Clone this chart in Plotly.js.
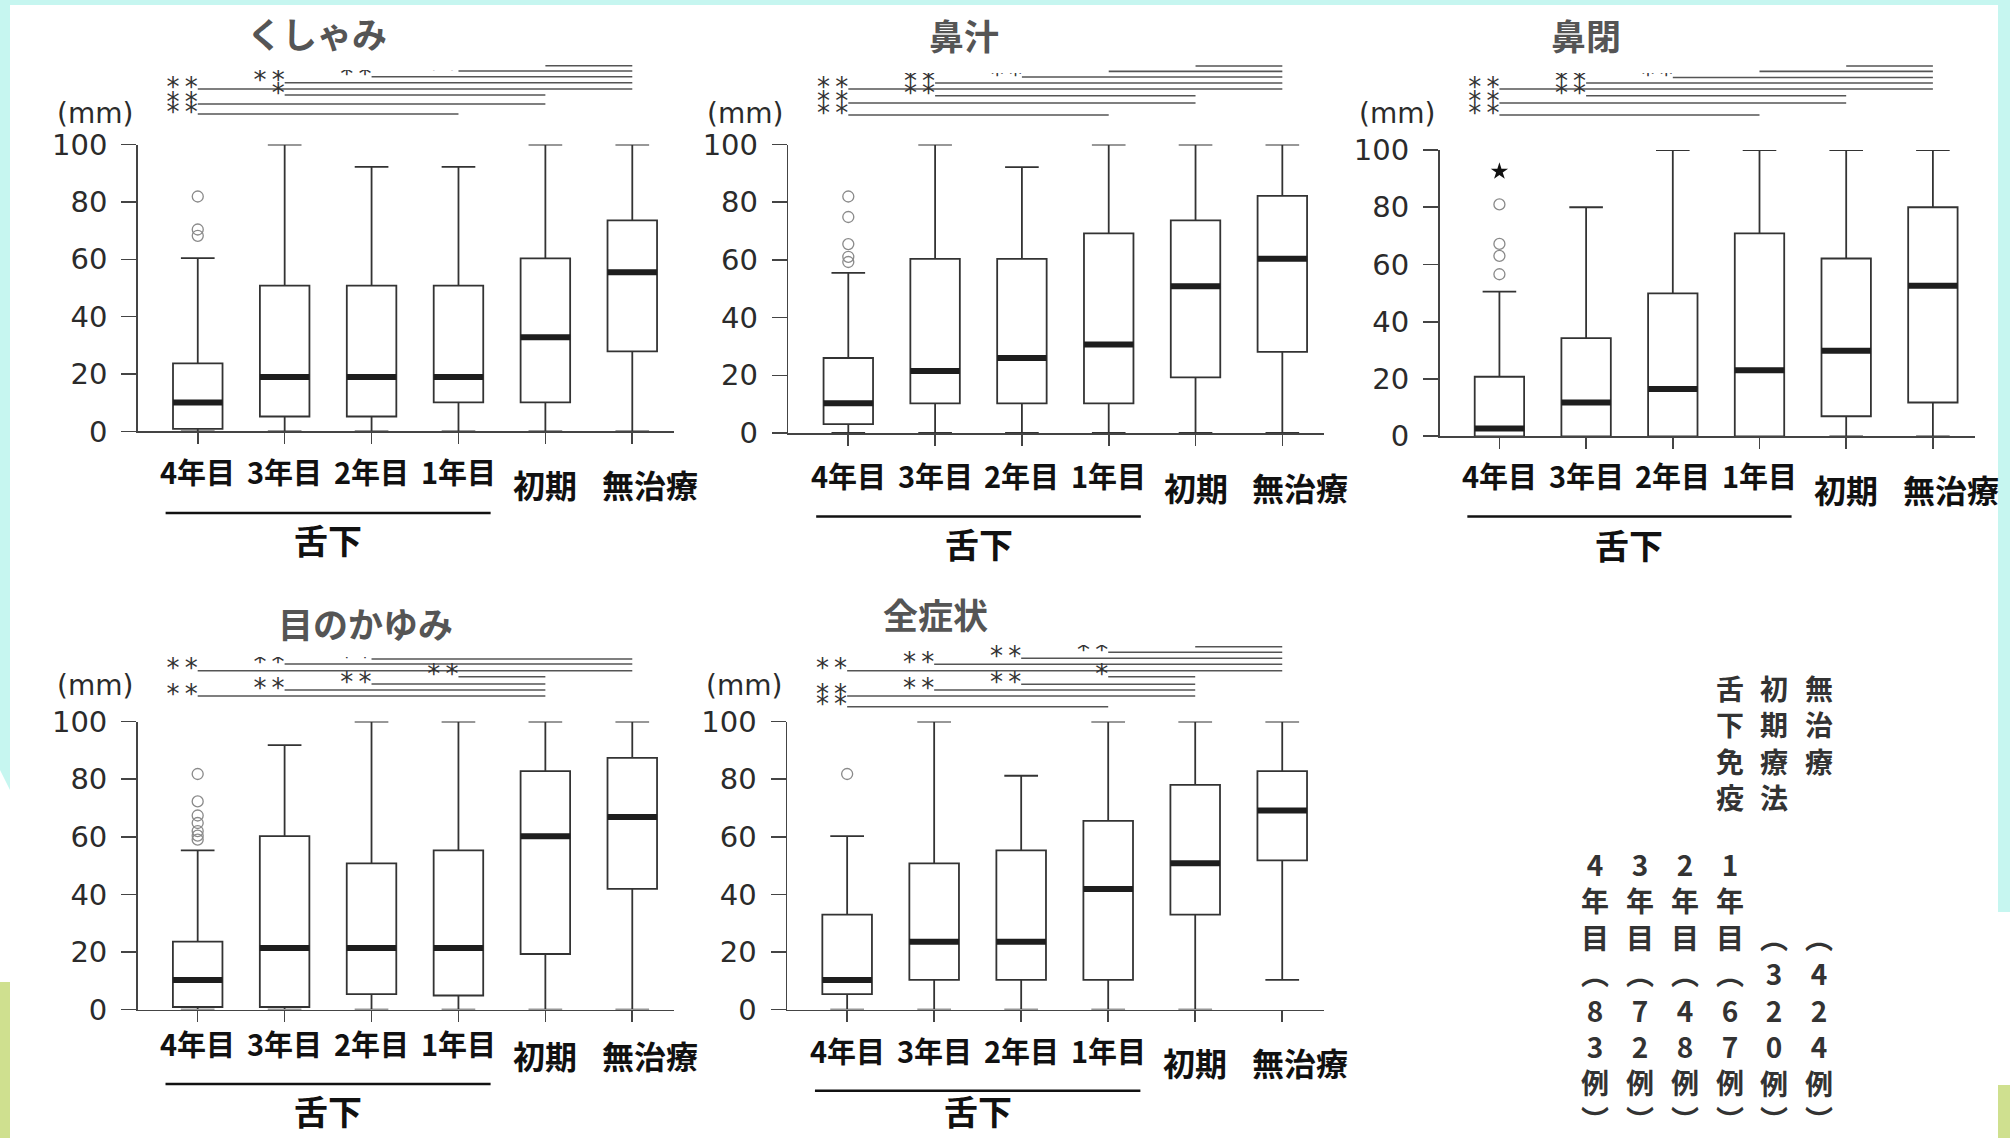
<!DOCTYPE html>
<html><head><meta charset="utf-8">
<script src="https://cdn.plot.ly/plotly-3.0.1.min.js"></script>
<style>html,body{margin:0;padding:0;background:#fff;}#chart{width:2010px;height:1138px;}</style>
</head><body><div id="chart"></div>
<script>
// ---------- data ----------
const groups = ['4年目','3年目','2年目','1年目','初期','無治療'];

// くしゃみ
const sneezeLowerFence = [0,0,0,0,0,0];
const sneezeQ1         = [0.9,5.2,5.2,10.1,10.1,27.9];
const sneezeMedian     = [10.1,19,19,19,32.8,55.5];
const sneezeQ3         = [23.7,50.8,50.8,50.8,60.3,73.6];
const sneezeUpperFence = [60.4,100,92.2,92.2,100,100];
const sneezeOutlierGroup = ['4年目','4年目','4年目'];
const sneezeOutlierValue = [81.9,70.4,68.2];
const sneezeSigFrom  = ['初期','1年目','2年目','3年目','4年目','3年目','4年目','4年目'];
const sneezeSigTo    = ['無治療','無治療','無治療','無治療','無治療','初期','初期','1年目'];
const sneezeSigLabel = ['','**','**','**','**','*','**','**'];

// 鼻汁
const runnyLowerFence = [0,0,0,0,0,0];
const runnyQ1         = [3.1,10.3,10.3,10.3,19.3,28.1];
const runnyMedian     = [10.3,21.5,26,30.7,50.9,60.4];
const runnyQ3         = [26,60.4,60.4,69.2,73.7,82.2];
const runnyUpperFence = [55.5,100,92.2,100,100,100];
const runnyOutlierGroup = ['4年目','4年目','4年目','4年目','4年目'];
const runnyOutlierValue = [82,74.9,65.5,61.1,59.3];
const runnySigFrom  = ['初期','1年目','2年目','3年目','4年目','3年目','4年目','4年目'];
const runnySigTo    = ['無治療','無治療','無治療','無治療','無治療','初期','初期','1年目'];
const runnySigLabel = ['','**','**','**','**','**','**','**'];

// 鼻閉
const blockedLowerFence = [0,0,0,0,0,0];
const blockedQ1         = [0,0,0,0,7,11.8];
const blockedMedian     = [2.7,11.8,16.5,23.1,29.9,52.6];
const blockedQ3         = [20.8,34.3,49.9,70.9,62.1,80];
const blockedUpperFence = [50.5,80,100,100,100,100];
const blockedOutlierGroup = ['4年目','4年目','4年目','4年目','3年目'];
const blockedOutlierValue = [81,67.2,63,56.6,101.9];
const blockedStarGroup = ['4年目'];
const blockedStarValue = [92.5];
const blockedSigFrom  = ['初期','1年目','2年目','3年目','4年目','3年目','4年目','4年目'];
const blockedSigTo    = ['無治療','無治療','無治療','無治療','無治療','初期','初期','1年目'];
const blockedSigLabel = ['','**','**','**','**','**','**','**'];

// 目のかゆみ
const itchyLowerFence = [0,0,0,0,0,0];
const itchyQ1         = [0.9,0.9,5.4,4.9,19.3,41.9];
const itchyMedian     = [10.3,21.4,21.4,21.4,60.2,66.9];
const itchyQ3         = [23.6,60.2,50.8,55.3,82.8,87.4];
const itchyUpperFence = [55.3,91.8,100,100,100,100];
const itchyOutlierGroup = ['4年目','4年目','4年目','4年目','4年目','4年目','4年目'];
const itchyOutlierValue = [81.8,72.3,67.4,64.8,62,60.4,59];
const itchySigFrom  = ['初期','1年目','2年目','3年目','4年目','1年目','2年目','3年目','4年目'];
const itchySigTo    = ['無治療','無治療','無治療','無治療','無治療','初期','初期','初期','初期'];
const itchySigLabel = ['','**','**','**','**','**','**','**','**'];

// 全症状
const allLowerFence = [0,0,0,0,0,10.3];
const allQ1         = [5.4,10.3,10.3,10.3,33,51.8];
const allMedian     = [10.3,23.6,23.6,41.9,50.8,69.1];
const allQ3         = [33,50.8,55.3,65.5,78,82.8];
const allUpperFence = [60.2,100,81.2,100,100,100];
const allOutlierGroup = ['4年目'];
const allOutlierValue = [81.8];
const allSigFrom  = ['初期','1年目','2年目','3年目','4年目','1年目','2年目','3年目','4年目','4年目'];
const allSigTo    = ['無治療','無治療','無治療','無治療','無治療','初期','初期','初期','初期','1年目'];
const allSigLabel = ['','**','**','**','**','*','**','**','**','**'];

// legend
const legendTreatments = ['舌下免疫','初期療法','無治療'];
const legendGroups = ['4年目','3年目','2年目','1年目','',''];
const legendCounts = [83,72,48,67,320,424];
const underGroupLabel = '舌下';
const unitLabel = '(mm)';
const yTicks = [0,20,40,60,80,100];

// ---------- layout config ----------
const W = 2010, H = 1138;
const fx = p => p / W;
const fy = p => 1 - p / H;
const CJK = '"Noto Sans CJK JP", "Noto Sans", sans-serif';

const SERIES = [
  {title:'くしゃみ', lo:sneezeLowerFence, q1:sneezeQ1, med:sneezeMedian, q3:sneezeQ3, hi:sneezeUpperFence, og:sneezeOutlierGroup, ov:sneezeOutlierValue, sg:[], sv:[], from:sneezeSigFrom, to:sneezeSigTo, lab:sneezeSigLabel},
  {title:'鼻汁', lo:runnyLowerFence, q1:runnyQ1, med:runnyMedian, q3:runnyQ3, hi:runnyUpperFence, og:runnyOutlierGroup, ov:runnyOutlierValue, sg:[], sv:[], from:runnySigFrom, to:runnySigTo, lab:runnySigLabel},
  {title:'鼻閉', lo:blockedLowerFence, q1:blockedQ1, med:blockedMedian, q3:blockedQ3, hi:blockedUpperFence, og:blockedOutlierGroup, ov:blockedOutlierValue, sg:blockedStarGroup, sv:blockedStarValue, from:blockedSigFrom, to:blockedSigTo, lab:blockedSigLabel},
  {title:'目のかゆみ', lo:itchyLowerFence, q1:itchyQ1, med:itchyMedian, q3:itchyQ3, hi:itchyUpperFence, og:itchyOutlierGroup, ov:itchyOutlierValue, sg:[], sv:[], from:itchySigFrom, to:itchySigTo, lab:itchySigLabel},
  {title:'全症状', lo:allLowerFence, q1:allQ1, med:allMedian, q3:allQ3, hi:allUpperFence, og:allOutlierGroup, ov:allOutlierValue, sg:[], sv:[], from:allSigFrom, to:allSigTo, lab:allSigLabel}
];

const PANELS = [
  {titleXY:[317,33], x0:137.8, x1:674, y0:144.6, y1:431.4, mmY:113.5, yearY:471, bigY:484, lineY:513, textY:539, lineTop:62, textTop:70, sigBottom:130, rows:[65.7,71,76.7,82.7,89,95,104,114]},
  {titleXY:[964,34], x0:788.4, x1:1324, y0:144.6, y1:433, mmY:113.5, yearY:475, bigY:487, lineY:516.6, textY:543, lineTop:62, textTop:73, sigBottom:130, rows:[66,71.4,77,83,89,95.7,103,115]},
  {titleXY:[1586,34], x0:1439.6, x1:1974.5, y0:150, y1:436.3, mmY:113.5, yearY:475, bigY:489, lineY:516.6, textY:544, lineTop:62, textTop:73, sigBottom:130, rows:[66,71.4,77.5,83,89,95.7,103,115]},
  {titleXY:[365,622], x0:137.7, x1:674, y0:721.6, y1:1009.6, mmY:685, yearY:1042.7, bigY:1055, lineY:1084, textY:1110, lineTop:656, textTop:657, sigBottom:705, rows:[649,653,659,664,670.7,676.7,684,690,696]},
  {titleXY:[935,613], x0:787.1, x1:1324, y0:721.6, y1:1009.6, mmY:685, yearY:1050, bigY:1062, lineY:1090.7, textY:1110, lineTop:644, textTop:645, sigBottom:718, rows:[646.7,652.3,658.3,664.3,670.7,676.7,684.3,690,696,706.7]}
];

const gi = g => groups.indexOf(g);
const xIdx = groups.map((g, j) => j);

const layout = {
  width: W, height: H,
  margin: {l:0, r:0, t:0, b:0},
  paper_bgcolor: '#ffffff',
  plot_bgcolor: 'rgba(0,0,0,0)',
  showlegend: false,
  boxmode: 'overlay',
  annotations: [],
  shapes: []
};
const traces = [];

// background strips
const CYAN = '#c6f6f0', LIME = '#cfe08f';
layout.shapes.push(
  {type:'rect', xref:'paper', yref:'paper', x0:0, x1:1, y0:fy(5), y1:1, fillcolor:CYAN, line:{width:0}, layer:'below'},
  {type:'path', xref:'paper', yref:'paper', path:`M0,1 L${fx(10)},1 L${fx(10)},${fy(790)} L0,${fy(770)} Z`, fillcolor:CYAN, line:{width:0}, layer:'below'},
  {type:'rect', xref:'paper', yref:'paper', x0:fx(1998), x1:1, y0:fy(912), y1:1, fillcolor:CYAN, line:{width:0}, layer:'below'},
  {type:'rect', xref:'paper', yref:'paper', x0:0, x1:fx(10), y0:0, y1:fy(982), fillcolor:LIME, line:{width:0}, layer:'below'},
  {type:'rect', xref:'paper', yref:'paper', x0:fx(1998), x1:1, y0:0, y1:fy(1085), fillcolor:LIME, line:{width:0}, layer:'below'}
);

PANELS.forEach((p, i) => {
  const d = SERIES[i];
  const k = i + 1;
  const s = k === 1 ? '' : String(k);
  const xa = 'x' + s, ya = 'y' + s, yl = 'y' + (k + 5), yt = 'y' + (k + 10);

  layout['xaxis' + s] = {
    domain:[fx(p.x0), fx(p.x1)], range:[-0.69, 5.48], anchor:ya,
    tickmode:'array', tickvals:xIdx, showticklabels:false,
    ticks:'outside', ticklen:11, tickwidth:1.6, tickcolor:'#444',
    showline:true, linecolor:'#444', linewidth:1.6,
    showgrid:false, zeroline:false, fixedrange:true
  };
  layout['yaxis' + s] = {
    domain:[fy(p.y1), fy(p.y0)], range:[0, 100], anchor:xa,
    tickmode:'array', tickvals:yTicks,
    ticks:'outside', ticklen:15, tickwidth:1.6, tickcolor:'#444',
    ticklabelstandoff:8,
    tickfont:{family:'"DejaVu Sans", sans-serif', size:29, color:'#2b2b2b'},
    showline:true, linecolor:'#444', linewidth:1.6,
    showgrid:false, zeroline:false, fixedrange:true
  };
  layout['yaxis' + (k + 5)] = {domain:[fy(p.sigBottom), fy(p.lineTop)], range:[p.sigBottom, p.lineTop], anchor:xa, visible:false, fixedrange:true};
  layout['yaxis' + (k + 10)] = {domain:[fy(p.sigBottom), fy(p.textTop)], range:[p.sigBottom, p.textTop], anchor:xa, visible:false, fixedrange:true};

  // boxes
  traces.push({
    type:'box', xaxis:xa, yaxis:ya, x:xIdx,
    q1:d.q1, median:d.med, q3:d.q3, lowerfence:d.lo, upperfence:d.hi,
    width:0.57, whiskerwidth:0.68, boxpoints:false,
    fillcolor:'#ffffff', line:{color:'#333', width:1.8}, hoverinfo:'skip'
  });
  // thick medians
  traces.push({
    type:'box', xaxis:xa, yaxis:ya, x:xIdx,
    q1:d.med, median:d.med, q3:d.med, lowerfence:d.med, upperfence:d.med,
    width:0.57, whiskerwidth:0, boxpoints:false,
    fillcolor:'rgba(0,0,0,0)', line:{color:'#1e1e1e', width:6}, hoverinfo:'skip'
  });
  // outliers
  traces.push({
    type:'scatter', mode:'markers', xaxis:xa, yaxis:ya, cliponaxis:false,
    x:d.og.map(gi), y:d.ov,
    marker:{symbol:'circle-open', size:11, color:'#8a8a8a', line:{width:1.3, color:'#8a8a8a'}}, hoverinfo:'skip'
  });
  if (d.sg.length) {
    traces.push({
      type:'scatter', mode:'markers', xaxis:xa, yaxis:ya, cliponaxis:false,
      x:d.sg.map(gi), y:d.sv,
      marker:{symbol:'star', size:13, color:'#111'}, hoverinfo:'skip'
    });
  }
  // significance lines
  const lx = [], ly = [];
  d.from.forEach((f, j) => { lx.push(gi(f), gi(d.to[j]), null); ly.push(p.rows[j], p.rows[j], null); });
  traces.push({type:'scatter', mode:'lines', xaxis:xa, yaxis:yl, x:lx, y:ly, line:{color:'#555', width:1.6}, hoverinfo:'skip'});
  traces.push({
    type:'scatter', mode:'text', xaxis:xa, yaxis:yt,
    x:d.from.map(gi), y:p.rows, text:d.lab.map(t => t.split('').join('\u2009')),
    textposition:'middle left',
    textfont:{family:'"DejaVu Sans", sans-serif', size:26, color:'#333'}, hoverinfo:'skip'
  });

  // title
  layout.annotations.push({xref:'paper', yref:'paper', x:fx(p.titleXY[0]), y:fy(p.titleXY[1]), text:d.title, showarrow:false, xanchor:'center', yanchor:'middle', font:{family:CJK, size:35, weight:'bold', color:'#555'}});
  // unit
  layout.annotations.push({xref:'paper', yref:'paper', x:fx(p.x0 - 3), y:fy(p.mmY), text:unitLabel, showarrow:false, xanchor:'right', yanchor:'middle', font:{family:'"DejaVu Sans", sans-serif', size:28, color:'#2b2b2b'}});
  // category labels
  groups.forEach((g, j) => {
    const big = j >= 4;
    layout.annotations.push({
      xref:xa, yref:'paper', x:j, y:fy(big ? p.bigY : p.yearY), xshift: j === 5 ? 18 : 0,
      text:g, showarrow:false, xanchor:'center', yanchor:'middle',
      font:{family:CJK, size: big ? 32 : 29, weight:'bold', color:'#111'}
    });
  });
  // 舌下 bracket
  layout.shapes.push({type:'line', xref:xa, yref:'paper', x0:-0.37, x1:3.37, y0:fy(p.lineY), y1:fy(p.lineY), line:{color:'#111', width:2.5}});
  layout.annotations.push({xref:xa, yref:'paper', x:1.5, y:fy(p.textY), text:underGroupLabel, showarrow:false, xanchor:'center', yanchor:'middle', font:{family:CJK, size:34, weight:'bold', color:'#111'}});
});

// vertical legend text: one text per column, one character per line
const LF = 28, LS = LF * 1.3;
const colX = [1595, 1640, 1685, 1730, 1774, 1819];
const columnText = chars => chars.join('<br>');
legendTreatments.forEach((t, c) => {
  const chars = Array.from(t);
  const first = 688, last = first + (chars.length - 1) * LS;
  layout.annotations.push({xref:'paper', yref:'paper', x:fx(colX[c + 3]), y:fy((first + last) / 2), text:columnText(chars), showarrow:false, xanchor:'center', yanchor:'middle', align:'center', font:{family:CJK, size:LF, weight:'bold', color:'#333'}});
});
legendCounts.forEach((n, c) => {
  const chars = Array.from(legendGroups[c] + '\uFE35' + String(n) + '例' + '\uFE36');
  const last = 1119, first = last - (chars.length - 1) * LS;
  layout.annotations.push({xref:'paper', yref:'paper', x:fx(colX[c]), y:fy((first + last) / 2), text:columnText(chars), showarrow:false, xanchor:'center', yanchor:'middle', align:'center', font:{family:CJK, size:LF, weight:'bold', color:'#333'}});
});

Plotly.newPlot('chart', traces, layout, {staticPlot:true, displayModeBar:false});
</script>
</body></html>
